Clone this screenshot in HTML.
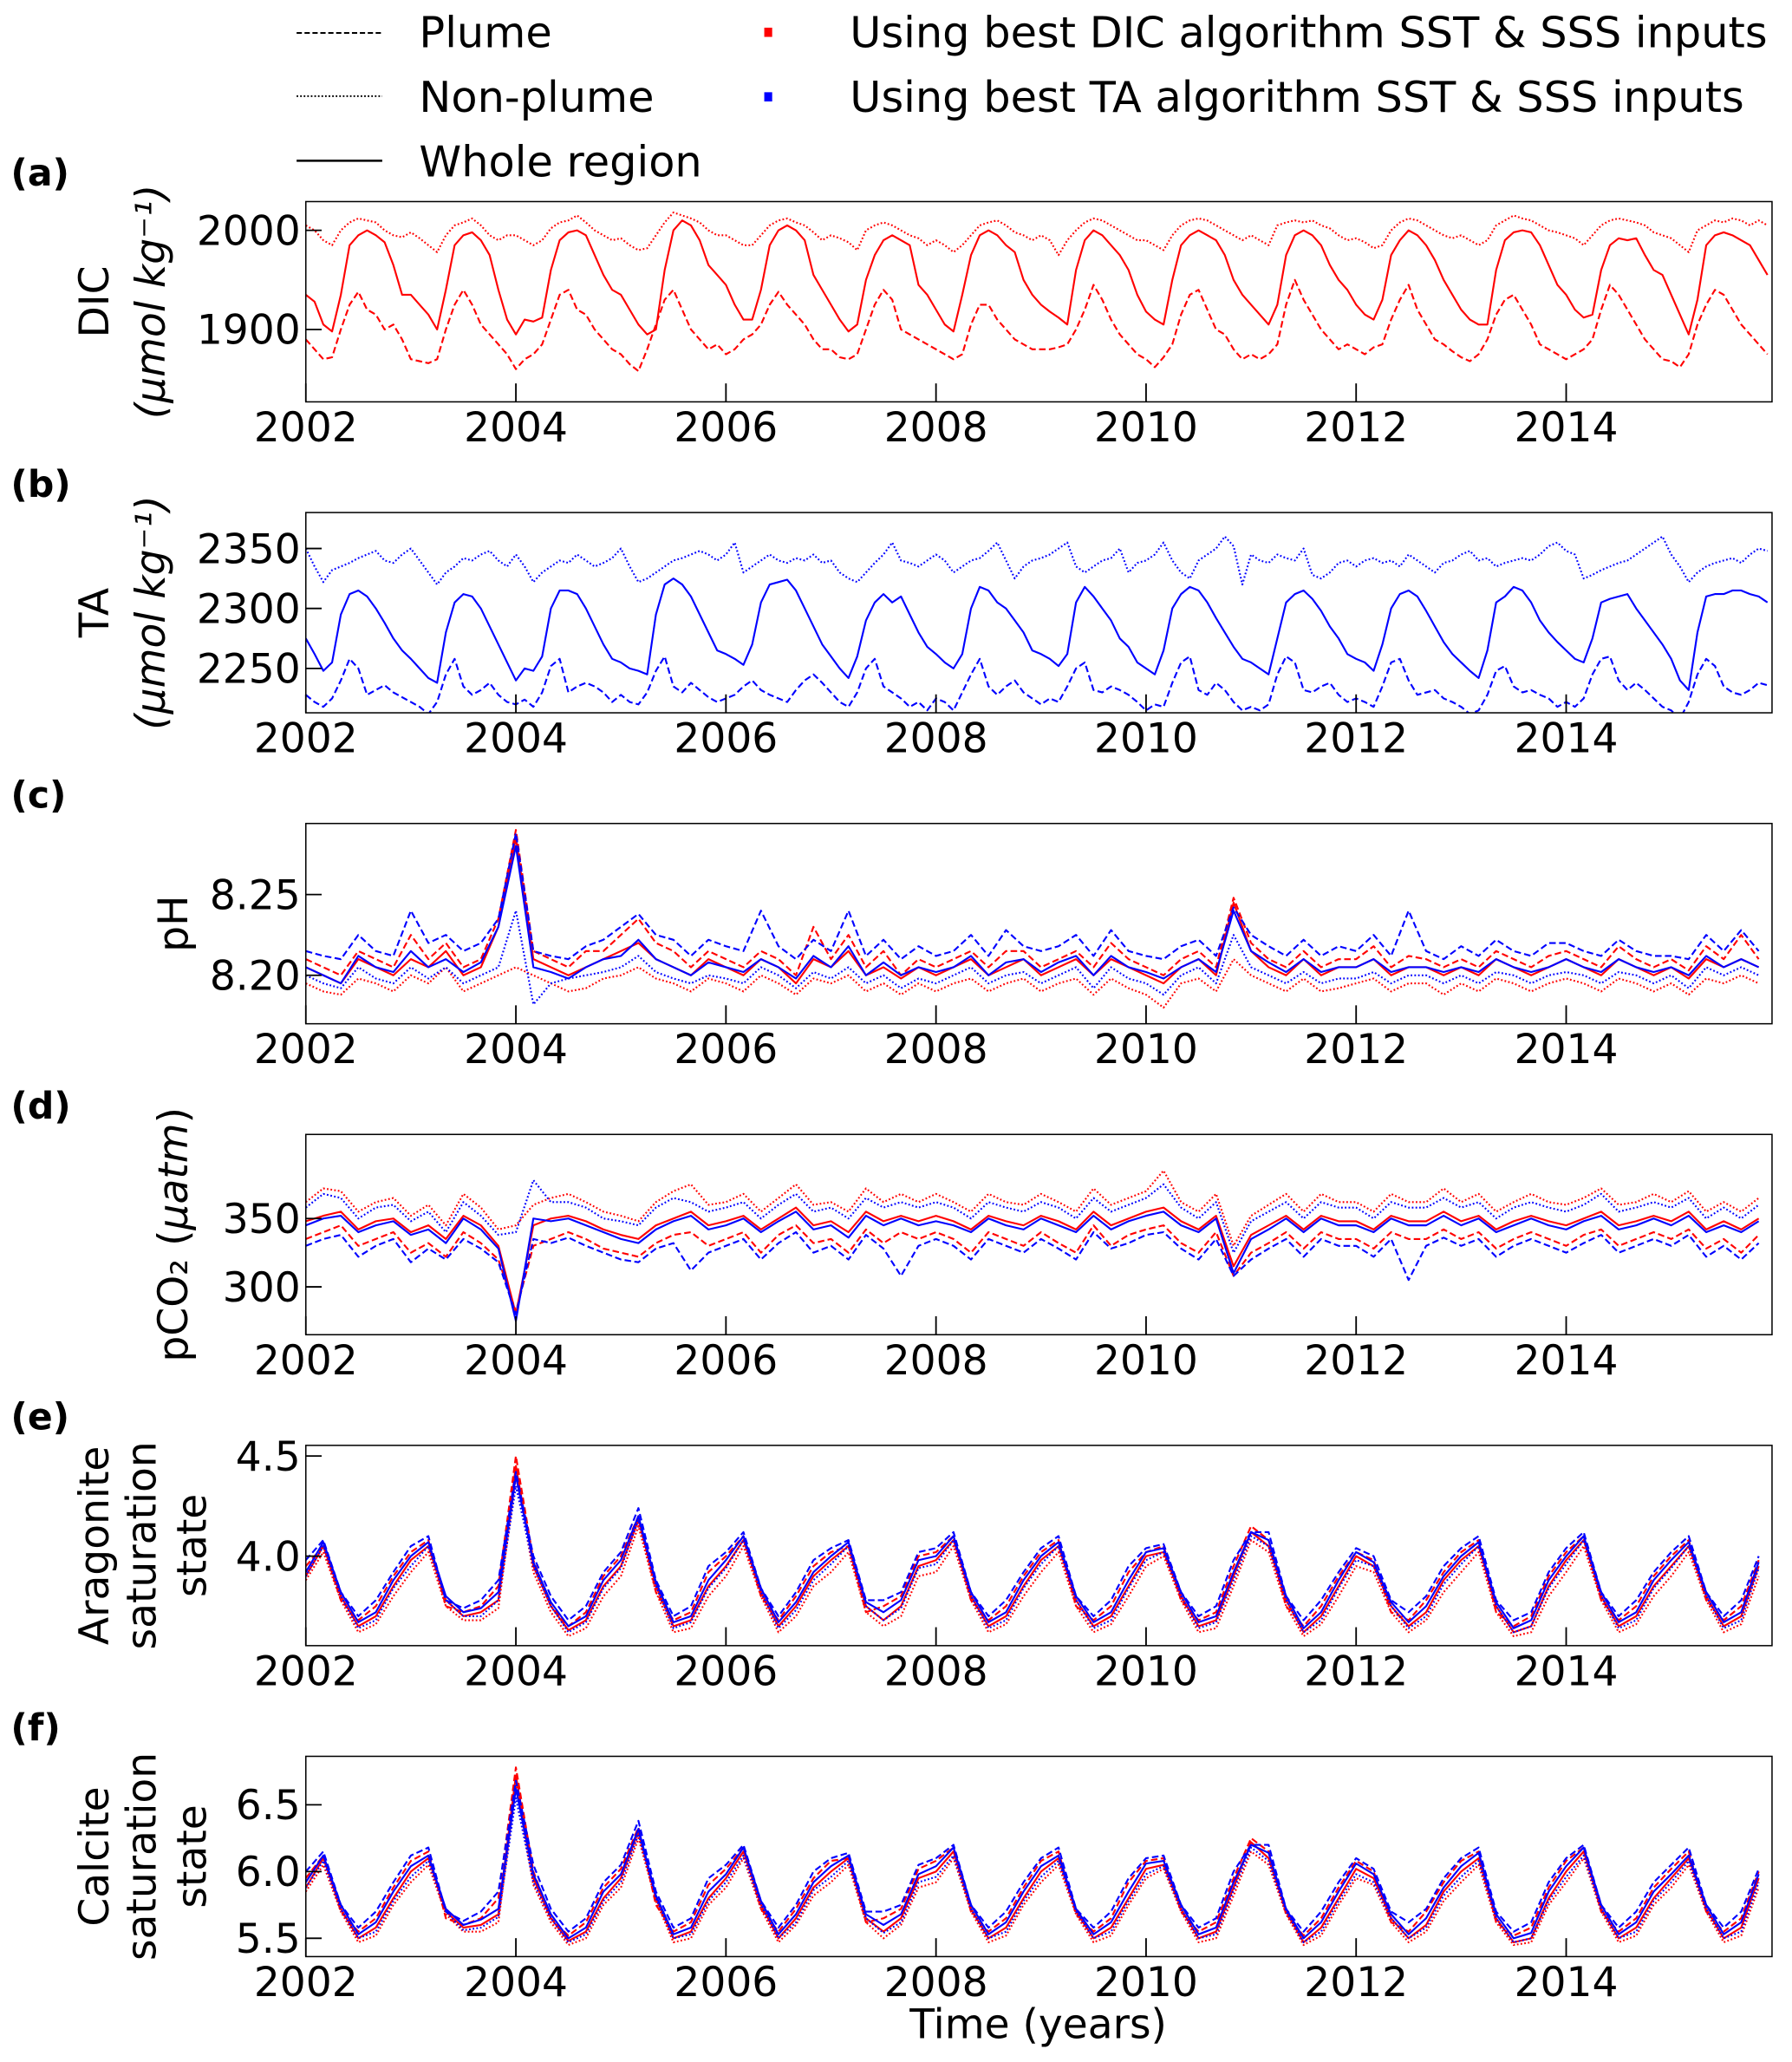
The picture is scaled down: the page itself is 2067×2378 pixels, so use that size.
<!DOCTYPE html>
<html><head><meta charset="utf-8"><style>
html,body{margin:0;padding:0;background:#fff}
svg{display:block}
text{font-family:"DejaVu Sans","Liberation Sans",sans-serif;fill:#000}
</style></head><body>
<svg id="chart" width="2067" height="2378" viewBox="0 0 1360 1565" xmlns="http://www.w3.org/2000/svg">
<g>
<line x1="225" y1="25" x2="290" y2="25" stroke="#000" stroke-width="1.3" stroke-dasharray="4,2"/>
<text x="318" y="36" font-size="32.5">Plume</text>
<line x1="225" y1="73" x2="290" y2="73" stroke="#000" stroke-width="1.3" stroke-dasharray="1.2,1.5"/>
<text x="318" y="85" font-size="32.5">Non-plume</text>
<line x1="225" y1="122" x2="290" y2="122" stroke="#000" stroke-width="1.6"/>
<text x="318" y="134" font-size="32.5">Whole region</text>
<rect x="580" y="21" width="6" height="7" fill="#ff0000"/>
<text x="645" y="36" font-size="32.5">Using best DIC algorithm SST &amp; SSS inputs</text>
<rect x="580" y="70" width="6" height="7" fill="#0000ff"/>
<text x="645" y="85" font-size="32.5">Using best TA algorithm SST &amp; SSS inputs</text>
</g>
<g id="panels"></g>
<text x="788" y="1547" font-size="31" text-anchor="middle">Time (years)</text>
</svg>
<script>
// ---- Panel (a) DIC, monthly 2002-2015 ----
const dicWhole=[1935,1928,1905,1898,1935,1985,1995,2000,1995,1988,1965,1935,
1935,1925,1915,1900,1940,1985,1995,1998,1990,1975,1940,1910,
1895,1910,1908,1912,1960,1990,1998,2000,1995,1975,1955,1940,
1935,1920,1905,1895,1900,1960,2000,2010,2005,1990,1965,1955,
1945,1925,1910,1910,1940,1985,2000,2005,2000,1990,1955,1940,
1925,1910,1898,1905,1950,1975,1990,1995,1990,1985,1945,1935,
1920,1905,1898,1935,1975,1995,2000,1995,1985,1978,1950,1935,
1925,1918,1912,1905,1960,1990,2000,1995,1985,1975,1960,1935,
1918,1910,1905,1950,1985,1995,2000,1995,1990,1975,1950,1935,
1925,1915,1905,1925,1975,1995,2000,1995,1985,1965,1950,1940,
1925,1915,1910,1930,1975,1990,2000,1995,1985,1970,1950,1935,
1920,1910,1905,1905,1960,1990,1998,2000,1998,1985,1965,1945,
1935,1920,1912,1915,1960,1985,1992,1990,1992,1975,1960,1955,
1935,1915,1895,1930,1985,1995,1998,1995,1990,1985,1970,1955];
const dicNonPlume=[2005,2000,1990,1985,2000,2008,2012,2010,2008,2000,1995,1993,
1998,1992,1985,1978,1995,2005,2008,2012,2005,1995,1990,1995,
1995,1990,1985,1990,2002,2008,2010,2015,2008,2000,1995,1990,
1992,1985,1980,1982,1995,2008,2018,2015,2012,2008,2000,1995,
1995,1990,1985,1985,1995,2005,2010,2012,2008,2005,1998,1990,
1995,1992,1988,1980,2000,2005,2008,2005,2000,1995,1992,1985,
1990,1985,1978,1985,1995,2005,2008,2010,2005,1998,1995,1990,
1995,1990,1975,1990,2000,2008,2012,2010,2005,2000,1995,1990,
1990,1985,1980,1995,2005,2010,2012,2010,2005,2000,1995,1990,
1995,1990,1985,2005,2008,2010,2008,2010,2005,2002,1995,1990,
1992,1988,1982,1985,2000,2008,2012,2010,2005,2000,1995,1992,
1995,1990,1985,1990,2005,2010,2015,2012,2010,2005,2000,1998,
1995,1992,1985,1995,2005,2010,2012,2010,2008,2005,1998,1995,
1992,1985,1978,2000,2005,2010,2008,2012,2010,2005,2010,2005];
const dicPlume=[1890,1880,1870,1872,1900,1925,1938,1920,1915,1900,1905,1890,
1870,1868,1866,1870,1900,1925,1940,1925,1905,1895,1885,1875,
1860,1870,1875,1885,1910,1935,1940,1920,1915,1900,1890,1880,
1875,1865,1858,1880,1905,1930,1940,1920,1900,1890,1880,1885,
1875,1880,1890,1895,1905,1925,1938,1925,1915,1905,1890,1880,
1880,1872,1870,1875,1900,1925,1940,1930,1900,1895,1890,1885,
1880,1875,1870,1875,1905,1925,1925,1910,1900,1890,1885,1880,
1880,1880,1882,1885,1900,1920,1945,1930,1910,1895,1885,1875,
1870,1862,1872,1885,1915,1935,1940,1920,1900,1895,1880,1870,
1875,1870,1875,1885,1925,1950,1930,1915,1900,1890,1880,1885,
1880,1875,1882,1885,1910,1930,1945,1920,1905,1890,1885,1878,
1872,1868,1875,1890,1915,1930,1935,1920,1905,1885,1880,1875,
1870,1875,1880,1890,1920,1945,1935,1920,1905,1890,1880,1870,
1868,1862,1875,1905,1925,1940,1935,1920,1905,1895,1885,1875];
// ---- Panel (b) TA, monthly ----
const taWhole=[2275,2262,2248,2255,2295,2312,2315,2310,2300,2288,2275,2265,
2258,2250,2242,2238,2280,2305,2312,2310,2300,2285,2270,2255,
2240,2250,2248,2260,2300,2315,2315,2312,2300,2285,2270,2258,
2255,2250,2248,2245,2295,2320,2325,2320,2310,2295,2280,2265,
2262,2258,2253,2270,2305,2320,2322,2324,2315,2300,2285,2270,
2260,2250,2242,2260,2290,2305,2312,2305,2310,2295,2280,2268,
2262,2255,2250,2262,2300,2318,2315,2305,2300,2290,2280,2265,
2262,2258,2252,2262,2305,2318,2310,2300,2290,2275,2268,2255,
2250,2245,2265,2300,2312,2318,2315,2305,2292,2280,2268,2258,
2255,2250,2245,2275,2305,2312,2315,2308,2298,2285,2275,2262,
2258,2255,2248,2270,2300,2312,2315,2310,2298,2285,2272,2262,
2255,2248,2242,2265,2305,2310,2318,2315,2305,2290,2280,2272,
2265,2258,2255,2275,2305,2308,2310,2312,2300,2290,2280,2270,
2258,2240,2232,2280,2310,2312,2312,2315,2315,2312,2310,2305];
const taNonPlume=[2350,2335,2322,2332,2335,2338,2342,2345,2348,2340,2338,2345,
2350,2340,2330,2320,2330,2335,2342,2340,2345,2348,2340,2335,
2345,2335,2322,2330,2335,2340,2338,2345,2340,2335,2338,2342,
2350,2335,2322,2325,2330,2335,2340,2342,2345,2348,2345,2340,
2345,2355,2330,2335,2340,2345,2340,2338,2342,2340,2345,2338,
2340,2330,2325,2322,2330,2338,2345,2355,2340,2338,2335,2340,
2345,2340,2330,2335,2340,2342,2348,2355,2340,2325,2335,2340,
2342,2345,2350,2355,2335,2330,2335,2340,2342,2350,2330,2338,
2340,2345,2355,2340,2330,2325,2340,2345,2350,2360,2352,2320,
2345,2340,2338,2345,2342,2340,2350,2328,2325,2330,2338,2340,
2335,2340,2342,2338,2340,2335,2345,2340,2335,2330,2338,2340,
2345,2348,2340,2342,2335,2338,2340,2342,2340,2345,2352,2355,
2348,2345,2325,2328,2332,2335,2338,2340,2345,2350,2355,2360,
2345,2335,2322,2330,2335,2338,2340,2342,2338,2345,2350,2348];
const taPlume=[2228,2222,2218,2225,2240,2258,2250,2228,2232,2236,2230,2226,
2222,2218,2212,2222,2245,2258,2235,2228,2232,2238,2228,2222,
2220,2224,2218,2230,2252,2258,2230,2235,2238,2235,2230,2222,
2228,2222,2220,2230,2248,2260,2235,2230,2238,2232,2226,2222,
2225,2228,2235,2240,2232,2228,2225,2222,2232,2240,2245,2238,
2230,2222,2218,2230,2250,2258,2235,2230,2225,2218,2222,2215,
2225,2222,2215,2230,2245,2258,2235,2228,2235,2240,2230,2225,
2220,2225,2222,2235,2250,2255,2232,2230,2235,2232,2228,2222,
2215,2220,2218,2238,2255,2260,2232,2228,2238,2232,2222,2215,
2218,2215,2220,2245,2260,2255,2232,2230,2235,2238,2228,2222,
2225,2222,2218,2235,2255,2258,2240,2228,2230,2232,2225,2222,
2218,2212,2215,2228,2248,2252,2235,2230,2232,2228,2225,2218,
2222,2218,2225,2245,2258,2260,2240,2232,2238,2232,2225,2218,
2215,2208,2222,2245,2258,2252,2235,2230,2228,2232,2238,2236];
// ---- Panel (c) pH, bimonthly ----
const phRedWhole=[8.205,8.200,8.195,8.210,8.205,8.200, 8.210,8.205,8.215,8.200,8.205,8.230, 8.285,8.210,8.205,8.200,8.205,8.210, 8.215,8.220,8.210,8.205,8.200,8.210, 8.205,8.200,8.210,8.205,8.195,8.210, 8.205,8.215,8.200,8.205,8.198,8.205, 8.200,8.205,8.210,8.200,8.205,8.210, 8.200,8.205,8.210,8.200,8.210,8.205, 8.200,8.195,8.205,8.210,8.200,8.245, 8.215,8.205,8.200,8.210,8.200,8.205, 8.205,8.210,8.200,8.205,8.205,8.200, 8.205,8.200,8.210,8.205,8.200,8.205, 8.210,8.205,8.200,8.210,8.205,8.200, 8.205,8.198,8.210,8.205,8.210,8.205];
const phRedPlume=[8.210,8.205,8.200,8.215,8.210,8.205, 8.225,8.210,8.220,8.205,8.210,8.235, 8.290,8.215,8.210,8.205,8.215,8.215, 8.225,8.235,8.220,8.215,8.205,8.215, 8.210,8.205,8.215,8.210,8.200,8.230, 8.210,8.225,8.205,8.215,8.200,8.210, 8.205,8.210,8.215,8.205,8.215,8.215, 8.205,8.210,8.215,8.205,8.220,8.210, 8.205,8.200,8.210,8.215,8.205,8.248, 8.220,8.210,8.205,8.215,8.205,8.210, 8.210,8.218,8.205,8.212,8.210,8.205, 8.210,8.205,8.215,8.210,8.205,8.212, 8.215,8.210,8.205,8.218,8.210,8.205, 8.210,8.203,8.218,8.210,8.225,8.210];
const phRedNonPlume=[8.195,8.190,8.188,8.198,8.195,8.190, 8.200,8.195,8.205,8.190,8.195,8.200, 8.205,8.200,8.195,8.190,8.192,8.198, 8.200,8.205,8.198,8.195,8.190,8.198, 8.195,8.190,8.200,8.195,8.188,8.198, 8.195,8.200,8.190,8.195,8.188,8.195, 8.190,8.195,8.198,8.190,8.195,8.198, 8.190,8.195,8.198,8.188,8.198,8.192, 8.188,8.180,8.195,8.198,8.190,8.210, 8.200,8.195,8.190,8.198,8.190,8.192, 8.195,8.198,8.190,8.195,8.195,8.188, 8.195,8.190,8.198,8.195,8.190,8.195, 8.198,8.195,8.190,8.198,8.195,8.190, 8.195,8.188,8.198,8.195,8.200,8.195];
const phBlueWhole=[8.205,8.200,8.195,8.212,8.205,8.202, 8.215,8.205,8.210,8.202,8.208,8.230, 8.280,8.205,8.202,8.198,8.205,8.210, 8.212,8.222,8.210,8.205,8.200,8.208, 8.205,8.202,8.210,8.205,8.198,8.212, 8.205,8.218,8.200,8.208,8.200,8.205, 8.202,8.205,8.212,8.200,8.208,8.210, 8.202,8.208,8.212,8.200,8.212,8.205, 8.202,8.198,8.205,8.210,8.202,8.240, 8.215,8.208,8.202,8.210,8.202,8.205, 8.205,8.210,8.202,8.205,8.205,8.202, 8.205,8.202,8.210,8.205,8.202,8.205, 8.210,8.205,8.202,8.210,8.205,8.202, 8.205,8.200,8.212,8.205,8.210,8.205];
const phBluePlume=[8.215,8.212,8.210,8.225,8.215,8.212, 8.240,8.220,8.225,8.215,8.220,8.235, 8.288,8.215,8.212,8.210,8.218,8.222, 8.230,8.238,8.225,8.222,8.212,8.222, 8.218,8.215,8.240,8.218,8.210,8.222, 8.215,8.240,8.212,8.222,8.210,8.218, 8.212,8.215,8.225,8.212,8.228,8.218, 8.215,8.218,8.225,8.212,8.228,8.215, 8.212,8.210,8.218,8.222,8.212,8.242, 8.225,8.218,8.212,8.222,8.212,8.218, 8.215,8.225,8.212,8.240,8.215,8.210, 8.218,8.212,8.222,8.215,8.212,8.220, 8.220,8.215,8.212,8.222,8.215,8.212, 8.212,8.210,8.225,8.215,8.228,8.215];
const phBlueNonPlume=[8.200,8.195,8.192,8.205,8.198,8.195, 8.205,8.198,8.205,8.195,8.200,8.205, 8.240,8.182,8.195,8.198,8.200,8.202, 8.205,8.212,8.202,8.198,8.195,8.200, 8.198,8.195,8.205,8.200,8.192,8.202, 8.198,8.205,8.195,8.200,8.192,8.198, 8.195,8.200,8.205,8.195,8.200,8.202, 8.195,8.200,8.205,8.192,8.205,8.198, 8.195,8.188,8.200,8.205,8.195,8.225, 8.205,8.200,8.195,8.202,8.195,8.198, 8.198,8.202,8.195,8.200,8.200,8.195, 8.200,8.195,8.202,8.200,8.195,8.200, 8.202,8.200,8.195,8.202,8.200,8.195, 8.200,8.192,8.205,8.200,8.205,8.200];
// ---- Panel (d) pCO2, bimonthly ----
const co2RedWhole=[348,352,355,342,348,350, 340,345,335,352,345,330, 280,345,350,352,348,342, 338,335,345,350,355,345, 348,352,342,350,358,345, 348,340,355,348,352,348, 352,348,342,352,348,345, 352,348,342,355,345,350, 355,358,348,342,352,315, 338,345,352,342,352,348, 348,342,352,348,348,355, 348,352,342,348,352,348, 345,350,355,345,348,352, 348,355,342,348,342,350];
const co2RedPlume=[335,340,345,330,335,340, 325,332,322,340,332,320, 282,330,335,340,335,328, 325,322,332,338,340,330, 335,340,325,338,345,332, 335,325,342,332,340,335, 340,335,325,340,335,330, 340,332,325,345,330,338, 342,345,332,325,340,308, 325,332,340,328,340,335, 335,328,340,335,335,342, 335,340,328,335,340,335, 330,338,342,330,335,340, 335,342,328,335,325,338];
const co2RedNonPlume=[362,372,370,355,362,365, 352,360,345,368,358,342, 345,360,365,368,362,355, 352,348,362,370,375,360, 362,368,355,365,375,360, 362,355,372,362,368,362, 368,362,355,368,362,360, 368,362,355,372,360,365, 370,385,362,355,368,330, 352,360,368,355,368,362, 362,355,368,362,362,372, 362,368,355,362,368,362, 360,365,372,360,362,368, 362,370,355,362,355,365];
const co2BlueWhole=[345,350,352,340,345,348, 338,342,332,350,342,328, 275,350,348,350,345,340, 335,332,342,348,352,342, 345,350,340,348,355,342, 345,336,352,345,350,345, 348,345,340,350,345,342, 350,345,340,352,342,348, 352,355,345,340,350,310, 335,342,350,340,350,345, 345,340,350,345,345,352, 345,350,340,345,350,345, 342,348,352,342,345,350, 345,352,340,345,340,348];
const co2BluePlume=[330,335,338,322,330,335, 318,328,320,335,328,318, 280,335,332,336,330,325, 320,318,328,332,312,325, 330,335,320,332,340,325, 330,320,338,328,308,330, 335,330,320,335,330,325, 335,328,320,340,328,332, 338,340,328,320,335,308, 320,328,335,322,335,330, 330,322,335,305,330,336, 330,335,322,330,335,330, 325,332,338,325,330,335, 330,338,322,330,320,332];
const co2BlueNonPlume=[358,368,365,350,358,360, 348,355,340,362,352,338, 340,378,362,362,358,350, 348,345,358,365,362,355, 358,362,350,360,368,355, 358,350,365,358,362,358, 362,358,350,362,358,355, 362,358,350,365,355,360, 365,375,358,350,362,325, 348,355,362,350,362,358, 358,350,362,358,358,365, 358,362,350,358,362,358, 355,360,368,355,358,362, 358,365,350,358,350,360];
// ---- Panel (e) Aragonite, bimonthly ----
const aragRedWhole=[3.90,4.05,3.80,3.65,3.70,3.85, 3.98,4.05,3.78,3.70,3.72,3.78, 4.45,3.95,3.75,3.63,3.68,3.85, 3.95,4.18,3.85,3.65,3.68,3.85, 3.95,4.08,3.82,3.65,3.75,3.90, 3.98,4.05,3.75,3.68,3.75,3.95, 3.98,4.08,3.80,3.65,3.70,3.85, 3.98,4.05,3.78,3.65,3.70,3.85, 4.00,4.02,3.80,3.65,3.68,3.90, 4.12,4.05,3.78,3.62,3.70,3.85, 4.00,3.95,3.75,3.65,3.72,3.88, 3.98,4.05,3.75,3.62,3.65,3.85, 3.98,4.08,3.80,3.65,3.70,3.85, 3.95,4.05,3.80,3.65,3.70,3.95];
const aragRedPlume=[3.95,4.05,3.78,3.68,3.75,3.90, 4.02,4.08,3.75,3.72,3.75,3.85, 4.50,3.98,3.75,3.65,3.72,3.90, 4.00,4.20,3.82,3.68,3.72,3.92, 4.00,4.10,3.80,3.68,3.80,3.95, 4.02,4.05,3.72,3.75,3.80,4.00, 4.02,4.10,3.78,3.68,3.75,3.90, 4.02,4.08,3.75,3.68,3.75,3.92, 4.02,4.05,3.78,3.68,3.72,3.95, 4.15,4.08,3.75,3.65,3.75,3.90, 4.02,3.98,3.72,3.68,3.78,3.92, 4.02,4.08,3.72,3.65,3.70,3.90, 4.02,4.10,3.78,3.68,3.75,3.90, 4.00,4.08,3.78,3.68,3.75,3.98];
const aragRedNonPlume=[3.88,4.02,3.78,3.62,3.66,3.80, 3.92,4.02,3.75,3.68,3.68,3.74, 4.40,3.92,3.72,3.60,3.64,3.80, 3.90,4.15,3.82,3.62,3.64,3.80, 3.90,4.05,3.80,3.62,3.70,3.85, 3.92,4.02,3.72,3.65,3.70,3.90, 3.92,4.05,3.78,3.62,3.66,3.80, 3.92,4.02,3.75,3.62,3.66,3.80, 3.95,4.00,3.78,3.62,3.64,3.85, 4.08,4.02,3.75,3.60,3.66,3.80, 3.95,3.92,3.72,3.62,3.68,3.82, 3.92,4.02,3.72,3.60,3.62,3.80, 3.92,4.05,3.78,3.62,3.66,3.80, 3.90,4.02,3.78,3.62,3.66,3.90];
const aragBlueWhole=[3.92,4.07,3.82,3.67,3.72,3.88, 4.00,4.07,3.80,3.72,3.74,3.82, 4.40,3.97,3.77,3.65,3.70,3.88, 3.98,4.20,3.87,3.67,3.70,3.88, 3.98,4.10,3.84,3.67,3.77,3.92, 4.00,4.07,3.77,3.72,3.78,3.98, 4.00,4.10,3.82,3.67,3.72,3.88, 4.00,4.07,3.80,3.67,3.72,3.88, 4.02,4.04,3.82,3.67,3.70,3.92, 4.12,4.08,3.80,3.64,3.72,3.88, 4.02,3.97,3.77,3.67,3.75,3.90, 4.00,4.07,3.77,3.64,3.68,3.88, 4.00,4.10,3.82,3.67,3.72,3.88, 3.98,4.07,3.82,3.67,3.72,3.97];
const aragBluePlume=[3.98,4.08,3.82,3.70,3.78,3.92, 4.05,4.10,3.78,3.74,3.78,3.88, 4.42,4.00,3.80,3.68,3.75,3.92, 4.02,4.24,3.88,3.70,3.75,3.95, 4.02,4.12,3.84,3.70,3.82,3.98, 4.04,4.08,3.78,3.78,3.82,4.02, 4.04,4.12,3.82,3.70,3.78,3.92, 4.04,4.10,3.80,3.70,3.78,3.95, 4.04,4.06,3.82,3.70,3.75,3.98, 4.12,4.12,3.80,3.68,3.78,3.92, 4.04,4.00,3.78,3.72,3.80,3.95, 4.04,4.10,3.78,3.68,3.72,3.92, 4.04,4.12,3.82,3.70,3.78,3.92, 4.02,4.10,3.82,3.70,3.78,4.00];
const aragBlueNonPlume=[3.90,4.05,3.80,3.64,3.68,3.84, 3.95,4.05,3.78,3.70,3.70,3.78, 4.35,3.95,3.75,3.62,3.67,3.84, 3.94,4.18,3.85,3.64,3.67,3.84, 3.94,4.08,3.82,3.64,3.73,3.88, 3.96,4.05,3.75,3.68,3.74,3.94, 3.96,4.08,3.80,3.64,3.68,3.84, 3.96,4.05,3.78,3.64,3.68,3.84, 3.98,4.02,3.80,3.64,3.67,3.88, 4.10,4.05,3.78,3.62,3.68,3.84, 3.98,3.95,3.75,3.64,3.70,3.86, 3.96,4.05,3.75,3.62,3.65,3.84, 3.96,4.08,3.80,3.64,3.68,3.84, 3.94,4.05,3.80,3.64,3.68,3.94];
// ---- Panel (f) Calcite, bimonthly ----
const calcRedWhole=[5.88,6.10,5.72,5.50,5.58,5.80, 6.00,6.10,5.70,5.58,5.60,5.68, 6.72,5.95,5.65,5.48,5.55,5.80, 5.95,6.30,5.80,5.50,5.55,5.80, 5.95,6.15,5.75,5.50,5.65,5.88, 6.00,6.10,5.65,5.55,5.65,5.95, 6.00,6.15,5.72,5.50,5.58,5.80, 6.00,6.10,5.70,5.50,5.58,5.80, 6.02,6.05,5.72,5.50,5.55,5.88, 6.22,6.10,5.70,5.47,5.58,5.80, 6.02,5.95,5.65,5.50,5.60,5.85, 6.00,6.10,5.65,5.47,5.50,5.80, 6.00,6.15,5.72,5.50,5.58,5.80, 5.95,6.10,5.72,5.50,5.58,5.95];
const calcRedPlume=[5.95,6.12,5.70,5.55,5.65,5.88, 6.08,6.15,5.65,5.60,5.65,5.80, 6.78,6.00,5.65,5.52,5.62,5.88, 6.02,6.33,5.75,5.55,5.62,5.90, 6.02,6.18,5.72,5.55,5.72,5.95, 6.08,6.10,5.62,5.65,5.72,6.02, 6.08,6.18,5.70,5.55,5.65,5.88, 6.08,6.15,5.68,5.55,5.65,5.92, 6.08,6.10,5.70,5.55,5.62,5.95, 6.25,6.15,5.68,5.52,5.65,5.88, 6.08,6.00,5.62,5.55,5.70,5.92, 6.08,6.15,5.62,5.52,5.58,5.88, 6.08,6.18,5.70,5.55,5.65,5.88, 6.02,6.15,5.70,5.55,5.65,6.00];
const calcRedNonPlume=[5.85,6.05,5.70,5.47,5.52,5.75, 5.92,6.05,5.68,5.55,5.55,5.62, 6.65,5.90,5.62,5.45,5.50,5.75, 5.88,6.25,5.78,5.47,5.50,5.75, 5.88,6.10,5.72,5.47,5.60,5.82, 5.92,6.05,5.62,5.50,5.60,5.88, 5.92,6.10,5.70,5.47,5.52,5.75, 5.92,6.05,5.68,5.47,5.52,5.75, 5.95,6.02,5.70,5.47,5.50,5.82, 6.15,6.05,5.68,5.45,5.52,5.75, 5.95,5.90,5.62,5.47,5.55,5.78, 5.92,6.05,5.62,5.45,5.47,5.75, 5.92,6.10,5.70,5.47,5.52,5.75, 5.88,6.05,5.70,5.47,5.52,5.88];
const calcBlueWhole=[5.92,6.12,5.75,5.53,5.62,5.85, 6.04,6.12,5.72,5.60,5.64,5.72, 6.62,5.98,5.68,5.50,5.58,5.85, 5.98,6.32,5.82,5.53,5.58,5.85, 5.98,6.18,5.78,5.53,5.68,5.92, 6.04,6.12,5.68,5.60,5.68,5.98, 6.04,6.18,5.75,5.53,5.62,5.85, 6.04,6.12,5.72,5.53,5.62,5.85, 6.06,6.08,5.75,5.53,5.58,5.92, 6.20,6.14,5.72,5.50,5.62,5.85, 6.06,5.98,5.68,5.53,5.65,5.88, 6.04,6.14,5.68,5.50,5.54,5.85, 6.04,6.18,5.75,5.53,5.62,5.85, 5.98,6.12,5.75,5.53,5.62,5.98];
const calcBluePlume=[6.00,6.15,5.75,5.58,5.70,5.92, 6.12,6.18,5.70,5.63,5.70,5.85, 6.68,6.05,5.72,5.55,5.65,5.92, 6.05,6.38,5.85,5.58,5.65,5.95, 6.05,6.20,5.78,5.58,5.75,6.00, 6.10,6.14,5.70,5.70,5.75,6.05, 6.10,6.20,5.75,5.58,5.70,5.92, 6.10,6.18,5.72,5.58,5.70,5.95, 6.10,6.12,5.75,5.58,5.65,6.00, 6.20,6.20,5.72,5.55,5.70,5.92, 6.10,6.02,5.70,5.62,5.72,5.95, 6.10,6.18,5.70,5.55,5.62,5.92, 6.10,6.20,5.75,5.58,5.70,5.92, 6.05,6.18,5.75,5.58,5.70,6.02];
const calcBlueNonPlume=[5.88,6.08,5.72,5.50,5.55,5.78, 5.96,6.08,5.70,5.56,5.58,5.66, 6.55,5.92,5.65,5.47,5.53,5.78, 5.92,6.28,5.80,5.50,5.53,5.78, 5.92,6.12,5.75,5.50,5.62,5.86, 5.96,6.08,5.65,5.54,5.62,5.92, 5.96,6.12,5.72,5.50,5.55,5.78, 5.96,6.08,5.70,5.50,5.55,5.78, 5.98,6.04,5.72,5.50,5.53,5.86, 6.18,6.08,5.70,5.47,5.55,5.78, 5.98,5.92,5.65,5.50,5.58,5.82, 5.96,6.08,5.65,5.47,5.50,5.78, 5.96,6.12,5.72,5.50,5.55,5.78, 5.92,6.08,5.72,5.50,5.55,5.92];
// ---- axis tick labels ----
const xTickYears=[2002,2004,2006,2008,2010,2012,2014];
const dicTicks=[1900,2000];
const taTicks=[2250,2300,2350];
const phTicks=[8.20,8.25];
const co2Ticks=[300,350];
const aragTicks=[4.0,4.5];
const calcTicks=[5.5,6.0,6.5];

const NS="http://www.w3.org/2000/svg";
const X0=232,X1=1345,PH=152;
const xScale=yr=>X0+(yr-2002)*(X1-X0)/13.96;
const root=document.getElementById('panels');
function mk(tag,attrs,parent){const e=document.createElementNS(NS,tag);for(const k in attrs)e.setAttribute(k,attrs[k]);parent.appendChild(e);return e;}
const RED="#ff0000",BLUE="#0000ff";
const DASH="5,2.5",DOT="1.2,1.6";
const panels=[
 {id:'a',top:153,ymin:1827,ymax:2029,ticks:dicTicks,fmt:v=>String(v),step:1,
  series:[[dicWhole,RED,null],[dicPlume,RED,DASH],[dicNonPlume,RED,DOT]],labels:[['DIC',82,false],['(μmol kg⁻¹)',125,true]]},
 {id:'b',top:389,ymin:2213,ymax:2380,ticks:taTicks,fmt:v=>String(v),step:1,
  series:[[taWhole,BLUE,null],[taPlume,BLUE,DASH],[taNonPlume,BLUE,DOT]],labels:[['TA',82,false],['(μmol kg⁻¹)',125,true]]},
 {id:'c',top:625,ymin:8.170,ymax:8.294,ticks:phTicks,fmt:v=>v.toFixed(2),step:2,
  series:[[phRedWhole,RED,null],[phRedPlume,RED,DASH],[phRedNonPlume,RED,DOT],[phBlueWhole,BLUE,null],[phBluePlume,BLUE,DASH],[phBlueNonPlume,BLUE,DOT]],labels:[['pH',142,false]]},
 {id:'d',top:861,ymin:265,ymax:411.5,ticks:co2Ticks,fmt:v=>String(v),step:2,
  series:[[co2RedWhole,RED,null],[co2RedPlume,RED,DASH],[co2RedNonPlume,RED,DOT],[co2BlueWhole,BLUE,null],[co2BluePlume,BLUE,DASH],[co2BlueNonPlume,BLUE,DOT]],labels:[['pCO₂ (μatm)',142,'mix']]},
 {id:'e',top:1097,ymin:3.553,ymax:4.553,ticks:aragTicks,fmt:v=>v.toFixed(1),step:2,
  series:[[aragRedWhole,RED,null],[aragRedPlume,RED,DASH],[aragRedNonPlume,RED,DOT],[aragBlueWhole,BLUE,null],[aragBluePlume,BLUE,DASH],[aragBlueNonPlume,BLUE,DOT]],labels:[['Aragonite',82,false],['saturation',118,false],['state',156,false]]},
 {id:'f',top:1333,ymin:5.363,ymax:6.863,ticks:calcTicks,fmt:v=>v.toFixed(1),step:2,
  series:[[calcRedWhole,RED,null],[calcRedPlume,RED,DASH],[calcRedNonPlume,RED,DOT],[calcBlueWhole,BLUE,null],[calcBluePlume,BLUE,DASH],[calcBlueNonPlume,BLUE,DOT]],labels:[['Calcite',82,false],['saturation',118,false],['state',156,false]]}
];
const names={a:'dic',b:'ta',c:'ph',d:'pco2',e:'aragonite',f:'calcite'};
panels.forEach(p=>{
 const g=mk('g',{},root);
 
 
 const yS=v=>p.top+PH-(v-p.ymin)/(p.ymax-p.ymin)*PH;
 const cp=mk('clipPath',{id:'clip'+p.id},g);
 mk('rect',{x:X0,y:p.top,width:X1-X0,height:PH},cp);
 const lg=mk('g',{'clip-path':'url(#clip'+p.id+')'},g);
 p.series.forEach(s=>{
  const [arr,col,dash]=s;
  const pts=arr.map((v,i)=>xScale(2002+i*p.step/12).toFixed(2)+','+yS(v).toFixed(2)).join(' ');
  const a={points:pts,fill:'none',stroke:col,'stroke-width':1.4,'stroke-linejoin':'round'};
  if(dash)a['stroke-dasharray']=dash;
  const pl=mk('polyline',a,lg);
  
  
 });
 mk('rect',{x:X0,y:p.top,width:X1-X0,height:PH,fill:'none',stroke:'#000','stroke-width':1},g);
 xTickYears.forEach(yr=>{
  const x=xScale(yr);
  mk('line',{x1:x,x2:x,y1:p.top+PH,y2:p.top+PH-14,stroke:'#000','stroke-width':1.2},g);
  const t=mk('text',{x:x,y:p.top+PH+30,'font-size':31,'text-anchor':'middle'},g);
  t.textContent=yr;
  
  
 });
 p.ticks.forEach(v=>{
  const y=yS(v);
  mk('line',{x1:X0,x2:X0+12,y1:y,y2:y,stroke:'#000','stroke-width':1.2},g);
  const t=mk('text',{x:X0-4,y:y+11,'font-size':31,'text-anchor':'end'},g);
  t.textContent=p.fmt(v);
  
  
 });
 const pl=mk('text',{x:8,y:p.top-12,'font-size':28,'font-weight':'bold'},g);
 pl.textContent='('+p.id+')';
 
 
 const cy=p.top+PH/2;
 p.labels.forEach(l=>{
  const t=mk('text',{x:l[1],y:cy,'font-size':31,'text-anchor':'middle',transform:'rotate(-90 '+l[1]+' '+cy+')'},g);
  if(l[2]===true)t.setAttribute('font-style','italic');
  if(l[2]==='mix'){
   const a=mk('tspan',{},t);a.textContent='pCO₂ (';
   const b=mk('tspan',{'font-style':'italic'},t);b.textContent='μatm';
   const c=mk('tspan',{},t);c.textContent=')';
  } else t.textContent=l[0];
  
  
 });
});
</script>
</body></html>
